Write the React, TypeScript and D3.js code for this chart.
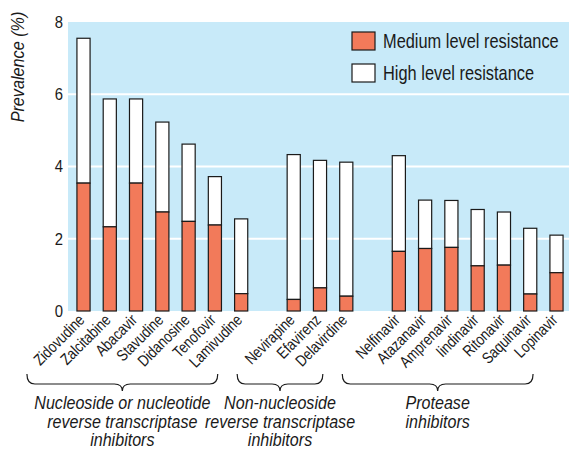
import React from "react";
import * as d3 from "d3";

const drugs = [
  "Zidovudine", "Zalcitabine", "Abacavir", "Stavudine", "Didanosine", "Tenofovir", "Lamivudine",
  "Nevirapine", "Efavirenz", "Delavirdine",
  "Nelfinavir", "Atazanavir", "Amprenavir", "Iindinavir", "Ritonavir", "Saquinavir", "Lopinavir",
];
// medium level resistance (%)
const medium = [3.54, 2.33, 3.54, 2.74, 2.48, 2.38, 0.48, 0.32, 0.64, 0.41, 1.65, 1.73, 1.76, 1.25, 1.27, 0.47, 1.06];
// high level resistance (%), stacked on top
const high = [4.01, 3.54, 2.33, 2.49, 2.14, 1.34, 2.07, 4.01, 3.53, 3.71, 2.65, 1.34, 1.30, 1.56, 1.47, 1.82, 1.04];

const groups = [
  { first: "Zidovudine", last: "Lamivudine", lines: ["Nucleoside or nucleotide", "reverse transcriptase", "inhibitors"] },
  { first: "Nevirapine", last: "Delavirdine", lines: ["Non-nucleoside", "reverse transcriptase", "inhibitors"] },
  { first: "Nelfinavir", last: "Lopinavir", lines: ["Protease", "inhibitors"] },
];
// empty slots between the groups
const slots = [...drugs.slice(0, 7), "_gap1", ...drugs.slice(7, 10), "_gap2", ...drugs.slice(10)];
const yTicks = [0, 2, 4, 6, 8];
const legendItems = ["Medium level resistance", "High level resistance"];

const W = 569;
const H = 450;
const plot = { left: 68, right: 569, top: 22, bottom: 311 };
const BLUE = "#c8eaf9";
const ORANGE = "#f27a5a";
const INK = "#1a1a1a";
const FONT = "'Liberation Sans', Arial, sans-serif";
const SQUEEZE = 0.82; // condensed look, no narrow font installed

export default function App() {
  const x = d3.scaleBand<string>().domain(slots).range([68, 572]).paddingInner(0.5).paddingOuter(0.34);
  const y = d3.scaleLinear().domain([0, 8]).range([plot.bottom, plot.top]);
  const bw = x.bandwidth();

  return (
    <div>
      <style>{`body{margin:0}`}</style>
      <svg width={W} height={H} style={{ display: "block", background: "white" }}>
        <rect x={plot.left} y={plot.top} width={plot.right - plot.left} height={plot.bottom - plot.top} fill={BLUE} />

        {/* grid lines */}
        {yTicks.filter((t) => t > 0 && t < 8).map((t) => (
          <line key={t} x1={plot.left} x2={plot.right} y1={y(t)} y2={y(t)} stroke="white" strokeWidth={2} />
        ))}

        {/* y ticks */}
        {yTicks.map((t) => (
          <text
            key={t}
            transform={`translate(63, ${y(t)}) scale(0.9, 1)`}
            dy="0.36em"
            textAnchor="end"
            fontFamily={FONT}
            fontSize={16.5}
            fill={INK}
          >
            {t}
          </text>
        ))}
        <text
          transform={`translate(24, 67) rotate(-90) scale(0.9, 1)`}
          textAnchor="middle"
          fontFamily={FONT}
          fontStyle="italic"
          fontSize={18}
          fill={INK}
        >
          Prevalence (%)
        </text>

        {/* stacked bars */}
        {drugs.map((d, i) => {
          const bx = x(d) ?? 0;
          const total = medium[i] + high[i];
          return (
            <g key={d}>
              <rect x={bx} y={y(total)} width={bw} height={y(medium[i]) - y(total)} fill="white" stroke={INK} strokeWidth={1.2} />
              <rect x={bx} y={y(medium[i])} width={bw} height={y(0) - y(medium[i])} fill={ORANGE} stroke={INK} strokeWidth={1.2} />
            </g>
          );
        })}

        {/* category labels */}
        {drugs.map((d) => {
          const cx = (x(d) ?? 0) + bw / 2 + 2;
          return (
            <text
              key={d}
              transform={`translate(${cx}, 321) rotate(-45) scale(${SQUEEZE}, 1)`}
              textAnchor="end"
              fontFamily={FONT}
              fontSize={16}
              fill={INK}
            >
              {d}
            </text>
          );
        })}

        {/* legend */}
        {legendItems.map((label, i) => (
          <g key={label} transform={`translate(352, ${32 + i * 32})`}>
            <rect width={23} height={18} fill={i === 0 ? ORANGE : "white"} stroke={INK} strokeWidth={1.2} />
            <text
              transform={`translate(31, 16) scale(${SQUEEZE}, 1)`}
              fontFamily={FONT}
              fontSize={20}
              fill={INK}
            >
              {label}
            </text>
          </g>
        ))}

        {/* group braces and labels */}
        {groups.map((g) => {
          const x0 = (x(g.first) ?? 0) - 50;
          const x1 = (x(g.last) ?? 0) + bw - 30;
          const mid = (x0 + x1) / 2;
          const top = 374;
          const bot = 391;
          const yc = 384;
          const path = `M${x0},${top} Q${x0},${yc} ${x0 + 8},${yc} L${mid - 8},${yc} Q${mid},${yc} ${mid},${bot} Q${mid},${yc} ${mid + 8},${yc} L${x1 - 8},${yc} Q${x1},${yc} ${x1},${top}`;
          return (
            <g key={g.first}>
              <path d={path} fill="none" stroke={INK} strokeWidth={1.2} />
              {g.lines.map((ln, j) => (
                <text
                  key={j}
                  transform={`translate(${mid}, ${409 + j * 18.5}) scale(0.92, 1)`}
                  textAnchor="middle"
                  fontFamily={FONT}
                  fontStyle="italic"
                  fontSize={17.5}
                  fill={INK}
                >
                  {ln}
                </text>
              ))}
            </g>
          );
        })}
      </svg>
    </div>
  );
}
